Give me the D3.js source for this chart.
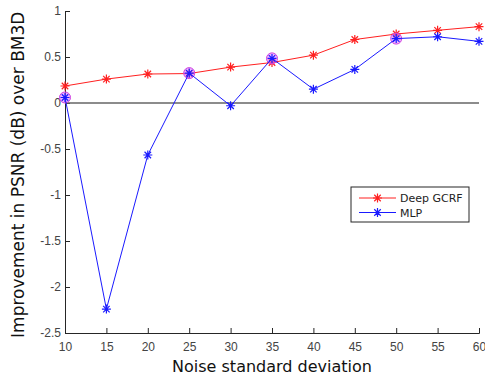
<!DOCTYPE html>
<html>
<head>
<meta charset="utf-8">
<script src="https://cdn.jsdelivr.net/npm/d3@7"></script>
<style>
  body { margin: 0; background: #fff; }
  svg { display: block; font-family: "DejaVu Sans", sans-serif; }
</style>
</head>
<body>
<svg id="chart" width="485" height="377"></svg>
<script>
// data
var noise = [10, 15, 20, 25, 30, 35, 40, 45, 50, 55, 60];
var gcrf = [0.185, 0.26, 0.315, 0.32, 0.39, 0.44, 0.52, 0.69, 0.75, 0.79, 0.83];
var mlp = [0.06, -2.24, -0.565, 0.325, -0.03, 0.485, 0.15, 0.365, 0.70, 0.72, 0.67];
var circled = [10, 25, 35, 50];
var yTicks = [-2.5, -2, -1.5, -1, -0.5, 0, 0.5, 1];
var seriesNames = ['Deep GCRF', 'MLP'];

var svg = d3.select('#chart');
var x = d3.scaleLinear().domain([10, 60]).range([65, 479]);
var y = d3.scaleLinear().domain([-2.5, 1]).range([333, 11]);

// axes (matlab style, ticks inward)
var xAxis = d3.axisBottom(x).tickValues(noise).tickSize(-5).tickPadding(9);
var yAxis = d3.axisLeft(y).tickValues(yTicks).tickSize(-5).tickPadding(4)
    .tickFormat(function(d) { return d; });

function styleAxis(g) {
    g.select('.domain').attr('stroke', '#262626');
    g.selectAll('.tick line').attr('stroke', '#262626');
    g.selectAll('.tick text').attr('fill', '#444').attr('font-size', 12);
}

svg.append('g').attr('transform', 'translate(0,333)').call(xAxis).call(styleAxis);
svg.append('g').attr('transform', 'translate(65,0)').call(yAxis).call(styleAxis);

// zero reference line
svg.append('line')
    .attr('x1', x(10)).attr('x2', x(60))
    .attr('y1', y(0)).attr('y2', y(0))
    .attr('stroke', '#666').attr('stroke-width', 1.5);

function star(g, cx, cy, color) {
    var r = 4.5, d = r * 0.72;
    var p = 'M' + (cx - r) + ',' + cy + 'h' + (2 * r) +
        'M' + cx + ',' + (cy - r) + 'v' + (2 * r) +
        'M' + (cx - d) + ',' + (cy - d) + 'l' + (2 * d) + ',' + (2 * d) +
        'M' + (cx - d) + ',' + (cy + d) + 'l' + (2 * d) + ',' + (-2 * d);
    g.append('path').attr('d', p).attr('stroke', color).attr('stroke-width', 1.2).attr('fill', 'none');
}

var line = d3.line().x(function(d) { return x(d[0]); }).y(function(d) { return y(d[1]); });

function drawSeries(vals, color) {
    var pts = noise.map(function(n, i) { return [n, vals[i]]; });
    var g = svg.append('g');
    g.append('path').attr('d', line(pts)).attr('fill', 'none').attr('stroke', color).attr('stroke-width', 1);
    pts.forEach(function(p) { star(g, x(p[0]), y(p[1]), color); });
}

drawSeries(gcrf, '#ff2020');

// magenta highlight circles on the MLP points
circled.forEach(function(n) {
    var i = noise.indexOf(n);
    svg.append('circle')
        .attr('cx', x(n)).attr('cy', y(mlp[i])).attr('r', 5.5)
        .attr('fill', 'rgba(230, 120, 255, 0.55)')
        .attr('stroke', '#d040e0').attr('stroke-width', 1);
});

drawSeries(mlp, '#1a1aff');

// legend
var lg = svg.append('g');
lg.append('rect').attr('x', 351).attr('y', 187).attr('width', 118).attr('height', 35)
    .attr('fill', '#fff').attr('stroke', '#262626').attr('stroke-width', 1);
var legendColors = ['#ff2020', '#1a1aff'];
seriesNames.forEach(function(name, i) {
    var ly = 198 + i * 14.5;
    lg.append('line').attr('x1', 359).attr('x2', 396).attr('y1', ly).attr('y2', ly)
        .attr('stroke', legendColors[i]).attr('stroke-width', 1);
    star(lg, 377.5, ly, legendColors[i]);
    lg.append('text').attr('x', 400).attr('y', ly + 4).attr('font-size', 11)
        .attr('fill', '#222').text(name);
});

// axis titles
svg.append('text').attr('x', x(35)).attr('y', 372).attr('text-anchor', 'middle')
    .attr('font-size', 16).attr('fill', '#111').text('Noise standard deviation');
svg.append('text').attr('transform', 'translate(24,' + y(-0.78) + ') rotate(-90)')
    .attr('text-anchor', 'middle').attr('font-size', 17).attr('fill', '#111')
    .text('Improvement in PSNR (dB) over BM3D');
</script>
</body>
</html>
